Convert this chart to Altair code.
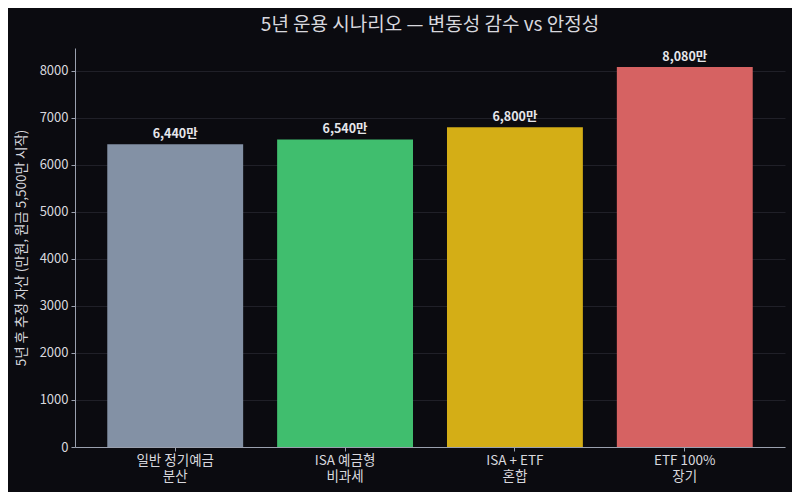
import altair as alt
import pandas as pd

categories = ["일반 정기예금\n분산", "ISA 예금형\n비과세", "ISA + ETF\n혼합", "ETF 100%\n장기"]
values = [6440, 6540, 6800, 8080]
colors = ["#8391A5", "#40BE6E", "#D4AE16", "#D66262"]

df = pd.DataFrame({"cat": categories, "value": values, "color": colors})

FONT = "Noto Sans CJK KR"
BG = "#0B0B10"
TXT = "#D8D8DE"

x = alt.X("cat:N", sort=categories, title=None,
          scale=alt.Scale(paddingInner=0.2, paddingOuter=0.19),
          axis=alt.Axis(labelAngle=0, labelExpr="split(datum.label, '\\n')",
                        labelColor=TXT, labelFontSize=13.5, labelFont=FONT,
                        labelLineHeight=16, labelPadding=2,
                        domainColor="#9AA0AE", tickColor="#9AA0AE", tickSize=4,
                        grid=False))
y = alt.Y("value:Q", title="5년 후 추정 자산 (만원, 원금 5,500만 시작)",
          scale=alt.Scale(domain=[0, 8484], nice=False),
          axis=alt.Axis(values=[0, 1000, 2000, 3000, 4000, 5000, 6000, 7000, 8000],
                        format="d",
                        labelColor=TXT, labelFontSize=13, labelFont=FONT,
                        labelPadding=3,
                        titleColor=TXT, titleFontSize=13.5, titleFont=FONT,
                        titleFontWeight="normal", titlePadding=11,
                        domainColor="#9AA0AE", tickColor="#9AA0AE", tickSize=4,
                        gridColor="#26262E", gridWidth=0.8))

base = alt.Chart(df)
bars = base.mark_bar().encode(
    x=x, y=y,
    color=alt.Color("color:N", scale=None, legend=None),
)
labels = base.transform_calculate(
    lab="format(datum.value, ',') + '만'"
).mark_text(baseline="bottom", dy=-3, fontWeight="bold", fontSize=12.5,
            font=FONT, color="#E6E6EA").encode(
    x=alt.X("cat:N", sort=categories), y=alt.Y("value:Q"), text="lab:N"
)

chart = (bars + labels).properties(
    width=710, height=399,
    title=alt.TitleParams("5년 운용 시나리오 — 변동성 감수 vs 안정성",
                          fontSize=19, font=FONT, fontWeight="normal",
                          color=TXT, anchor="middle", offset=13),
    background=BG,
    autosize=alt.AutoSizeParams(type="none"),
    padding={"left": 67, "top": 40, "right": 7, "bottom": 45},
).configure_view(stroke=None)

chart.save("out.html", embed_options={"renderer": "svg", "actions": False})
